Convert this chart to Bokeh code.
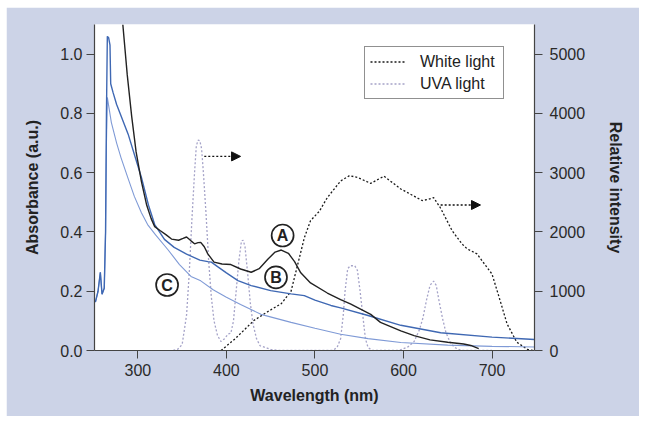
from bokeh.plotting import figure
from bokeh.models import (Range1d, LinearAxis, FixedTicker, NumeralTickFormatter,
                          Arrow, NormalHead, Legend, LegendItem, Spacer)
from bokeh.layouts import column, row
from bokeh.core.properties import value
from bokeh.embed import file_html
from bokeh.resources import INLINE

# ---------------- data ----------------
# Curve A (black) absorbance
a_wl = [283, 288, 293, 298, 304, 310, 315, 319, 325, 332, 338, 346, 351, 355, 360, 364,
        368, 371, 375, 379, 386, 395, 405, 416, 428, 437, 447, 455, 462, 470, 477, 484,
        495, 514, 529, 540, 563, 574, 597, 612, 630, 650, 668, 676, 685]
a_abs = [1.10, 0.93, 0.79, 0.67, 0.57, 0.49, 0.445, 0.418, 0.405, 0.39, 0.376, 0.372, 0.378,
         0.383, 0.370, 0.360, 0.364, 0.365, 0.350, 0.326, 0.298, 0.292, 0.290, 0.275, 0.264,
         0.276, 0.309, 0.332, 0.339, 0.328, 0.300, 0.262, 0.228, 0.194, 0.172, 0.157, 0.122,
         0.095, 0.066, 0.050, 0.036, 0.028, 0.022, 0.017, 0.006]

# Curve B (blue) absorbance
b_wl = [252, 255, 257.6, 259.5, 262, 263.5, 264.5, 265.5, 267, 268.5, 269.3, 272, 276, 289,
        304, 312, 319, 330, 341, 355, 370, 379, 383, 390, 400, 413, 428, 450, 473, 488, 500,
        518, 529, 560, 597, 642, 700, 748]
b_abs = [0.163, 0.20, 0.264, 0.19, 0.21, 0.40, 0.80, 1.06, 1.055, 1.03, 0.90, 0.87, 0.83,
         0.73, 0.584, 0.49, 0.425, 0.375, 0.348, 0.325, 0.305, 0.300, 0.298, 0.283, 0.262,
         0.236, 0.219, 0.202, 0.191, 0.185, 0.170, 0.152, 0.144, 0.118, 0.085, 0.060, 0.045,
         0.037]

# Curve C (light blue) absorbance
c_wl = [252, 255, 257.6, 259.5, 262, 263.5, 264.5, 265.5, 270, 276, 281, 289, 296, 304, 311,
        320, 334, 347, 360, 371, 385, 400, 416, 439, 473, 500, 529, 560, 597, 650, 700, 748]
c_abs = [0.163, 0.20, 0.264, 0.19, 0.21, 0.40, 0.70, 0.854, 0.77, 0.70, 0.65, 0.58, 0.52,
         0.465, 0.425, 0.39, 0.34, 0.29, 0.25, 0.235, 0.205, 0.18, 0.155, 0.122, 0.095, 0.075,
         0.055, 0.040, 0.027, 0.018, 0.014, 0.012]

# White light spectrum (relative intensity)
w_wl = [394, 410, 431, 446, 462, 473, 478, 488, 495, 505, 514, 529, 539, 548, 563, 578, 597,
        610, 621, 628, 634, 642, 655, 666, 672, 683, 700, 708, 717, 728, 740, 746]
w_int = [0, 200, 506, 650, 790, 1000, 1300, 1900, 2190, 2350, 2580, 2860, 2950, 2920, 2820,
         2940, 2725, 2620, 2530, 2550, 2580, 2400, 2020, 1800, 1714, 1630, 1290, 900, 450,
         140, 20, 0]

# UVA light spectrum (relative intensity)
u_wl = [340, 345, 350, 355, 358, 361, 364, 366, 368, 370, 372, 374, 377, 380, 383, 386, 390,
        394, 398, 402, 405, 408, 411, 414, 417, 419, 421, 424, 427, 430, 434, 438, 442, 446,
        450, 460, 520, 525, 529, 532, 534, 537, 540, 545, 548, 551, 554, 557, 560, 565, 595,
        605, 612, 618, 622, 626, 630, 634, 637, 640, 644, 648, 653, 658, 665, 700]
u_int = [0, 20, 100, 600, 1300, 2200, 3000, 3450, 3550, 3540, 3400, 3000, 2300, 1500, 900,
         500, 250, 150, 200, 280, 290, 500, 1000, 1500, 1850, 1860, 1750, 1300, 800, 450, 200,
         80, 60, 40, 20, 0, 0, 50, 200, 600, 1000, 1380, 1430, 1430, 1350, 1000, 600, 200, 50,
         0, 0, 60, 150, 350, 550, 850, 1100, 1170, 1100, 850, 550, 300, 130, 50, 0, 0]

x_ticks = [300, 400, 500, 600, 700]
abs_ticks = [0.0, 0.2, 0.4, 0.6, 0.8, 1.0]
int_ticks = [0, 1000, 2000, 3000, 4000, 5000]

labels = ["A", "B", "C"]
label_x = [463.5, 456, 333]
label_y = [0.388, 0.247, 0.221]

# ---------------- figure ----------------
FONT = "Liberation Sans"
BG = "#ccd3e7"

p = figure(width=633, height=409, x_range=Range1d(251, 748), y_range=Range1d(0, 1.1),
           output_backend="svg", toolbar_location=None,
           min_border_left=88, min_border_right=105, min_border_top=17, min_border_bottom=66)
p.extra_y_ranges = {"int": Range1d(0, 5500)}
p.background_fill_color = "white"
p.border_fill_color = BG
p.outline_line_color = None
p.xgrid.visible = False
p.ygrid.visible = False

r_uva = p.line(u_wl, u_int, y_range_name="int", line_color="#a5a3c8", line_width=1.3,
               line_dash="2 2")
r_white = p.line(w_wl, w_int, y_range_name="int", line_color="#1a1a1a", line_width=1.3,
                 line_dash="2 2")
p.line(c_wl, c_abs, line_color="#7f9ad6", line_width=1.1)
p.line(b_wl, b_abs, line_color="#3f68b3", line_width=1.4)
p.line(a_wl, a_abs, line_color="#222222", line_width=1.4)

# arrows pointing to the right axis
p.add_layout(Arrow(end=NormalHead(size=9, fill_color="#111", line_color="#111"),
                   x_start=375, y_start=0.655, x_end=416, y_end=0.655,
                   line_color="#111", line_width=1.3, line_dash="2 2"))
p.add_layout(Arrow(end=NormalHead(size=9, fill_color="#111", line_color="#111"),
                   x_start=642, y_start=0.491, x_end=687, y_end=0.491,
                   line_color="#111", line_width=1.3, line_dash="2 2"))

# circled labels
p.scatter(label_x, label_y, marker="circle", size=22, fill_color="white",
          line_color="#222", line_width=1.7)
p.text(label_x, label_y, text=labels, text_align="center", text_baseline="middle",
       text_font=value(FONT), text_font_style="bold", text_font_size="16px",
       text_color="#222")

# axes
p.xaxis.ticker = FixedTicker(ticks=x_ticks)
p.yaxis.ticker = FixedTicker(ticks=abs_ticks)
p.yaxis.formatter = NumeralTickFormatter(format="0.0")
p.xaxis.axis_label = "Wavelength (nm)"
p.yaxis.axis_label = "Absorbance (a.u.)"

right = LinearAxis(y_range_name="int", ticker=FixedTicker(ticks=int_ticks),
                   formatter=NumeralTickFormatter(format="0"),
                   axis_label="Relative intensity")
p.add_layout(right, "right")

for ax in [p.xaxis[0], p.yaxis[0], right]:
    ax.axis_line_color = "#444"
    ax.axis_line_width = 1.2
    ax.major_tick_line_color = "#444"
    ax.major_tick_out = 8
    ax.major_tick_in = 0
    ax.minor_tick_out = 0
    ax.minor_tick_in = 0
    ax.major_label_text_font = FONT
    ax.major_label_text_font_size = "16px"
    ax.major_label_text_color = "#2a2a2a"
    ax.axis_label_text_font = FONT
    ax.axis_label_text_font_style = "bold"
    ax.axis_label_text_font_size = "16px"
    ax.axis_label_text_color = "#222"

p.yaxis[0].major_label_standoff = 4
p.yaxis[0].axis_label_standoff = 16
p.xaxis[0].major_label_standoff = 5
p.xaxis[0].axis_label_standoff = 8
right.major_label_standoff = 7
right.axis_label_standoff = 19

legend = Legend(items=[LegendItem(label="White light", renderers=[r_white]),
                       LegendItem(label="UVA light", renderers=[r_uva])],
                location=(270, 251))
legend.label_text_font = FONT
legend.label_text_font_size = "16px"
legend.label_text_color = "#222"
legend.border_line_color = "#222"
legend.border_line_width = 1
legend.background_fill_color = "white"
legend.background_fill_alpha = 1
legend.padding = 5
legend.spacing = 3
legend.glyph_width = 36
legend.glyph_height = 19
legend.label_height = 19
legend.label_width = 78
legend.label_standoff = 14
legend.margin = 0
p.add_layout(legend)

layout = column(Spacer(height=7), row(Spacer(width=6), p, spacing=0), spacing=0)
open("out.html", "w").write(file_html(layout, INLINE))
